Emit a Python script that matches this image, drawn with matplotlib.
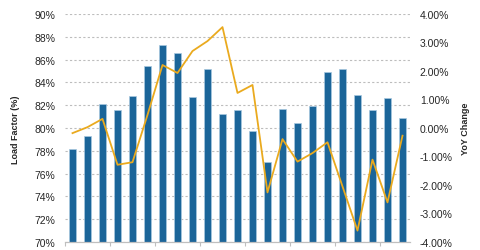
import matplotlib
matplotlib.use("Agg")
import matplotlib.pyplot as plt
from matplotlib.ticker import FuncFormatter
import numpy as np

plt.rcParams['font.family'] = ['Liberation Sans', 'DejaVu Sans']

# monthly data, 23 periods (x labels are not shown in the reference)
periods = list(range(23))
load_factor = [78.2, 79.3, 82.1, 81.6, 82.8, 85.4, 87.3, 86.55, 82.7, 85.2, 81.2, 81.6,
               79.7, 77.0, 81.7, 80.4, 81.9, 84.95, 85.2, 82.9, 81.6, 82.6, 80.9]
yoy_change = [-0.18, 0.03, 0.32, -1.29, -1.2, 0.46, 2.21, 1.93, 2.70, 3.05, 3.54, 1.23,
              1.51, -2.26, -0.39, -1.18, -0.88, -0.50, -2.05, -3.60, -1.11, -2.61, -0.27]

BAR_COLOR = "#1b6599"
LINE_COLOR = "#eaaa1e"
TEXT_COLOR = "#262626"

fig = plt.figure(figsize=(4.8, 2.51), dpi=100)
ax = fig.add_axes([65/480, 1-243/251, 345/480, 228/251])
ax2 = ax.twinx()

x = np.arange(len(periods))
ax.bar(x, load_factor, width=0.42, color=BAR_COLOR, edgecolor="#a8c8e0", linewidth=0.5, zorder=2)
ax.set_ylim(70, 90)
ax.set_yticks(np.arange(70, 91, 2))
ax.yaxis.set_major_formatter(FuncFormatter(lambda v, p: f"{v:.0f}%"))
ax.set_xlim(-0.5, len(periods) - 0.5)
ax.set_xticks(np.arange(-0.5, len(periods) - 0.5, 3))
ax.set_xticklabels([])
ax.grid(axis="y", color="#bdbdbd", linestyle=(0, (2, 2)), linewidth=0.8, zorder=0)
ax.set_axisbelow(True)

# yoy change line on the right axis
ax2.plot(x, yoy_change, color=LINE_COLOR, linewidth=1.3, zorder=3)
ax2.set_ylim(-4, 4)
ax2.set_yticks(np.arange(-4, 4.01, 1))
ax2.yaxis.set_major_formatter(FuncFormatter(lambda v, p: f"{v:.2f}%"))

for a in (ax, ax2):
    for s in ("top", "left", "right"):
        a.spines[s].set_visible(False)
    a.spines["bottom"].set_color("#bfbfbf")
    a.tick_params(axis="y", length=0, pad=7, labelsize=7.5, labelcolor=TEXT_COLOR)
ax.tick_params(axis="x", length=3, color="#bfbfbf", width=0.8)

fig.text(15/480, 1-130/251, "Load Factor (%)", rotation=90, ha="center", va="center",
         fontsize=6.5, fontweight="bold", color=TEXT_COLOR)
fig.text(465/480, 1-129/251, "YoY Change", rotation=90, ha="center", va="center",
         fontsize=6.5, fontweight="bold", color=TEXT_COLOR)

fig.savefig("out.png", dpi=100)
